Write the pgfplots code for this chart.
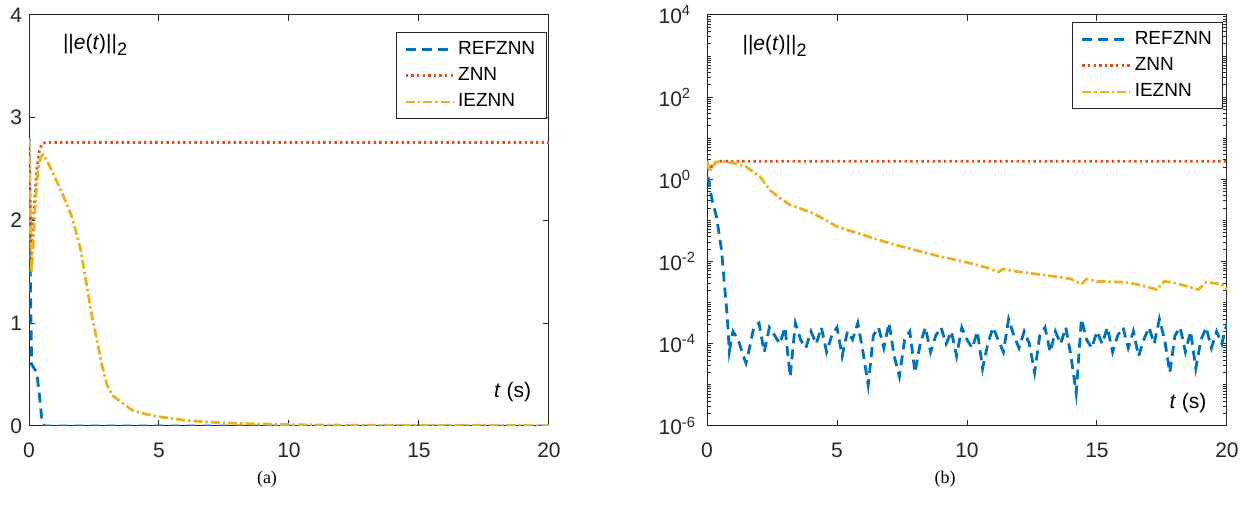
\documentclass[border=0pt]{standalone}
\usepackage{fontspec}
\setmainfont{Liberation Sans}
\newfontfamily\capfont{Liberation Serif}
\usepackage{pgfplots}
\pgfplotsset{compat=1.18}

\definecolor{mblue}{rgb}{0,0.447,0.741}
\definecolor{mred}{rgb}{0.85,0.325,0.098}
\definecolor{myel}{rgb}{0.929,0.694,0.125}
\definecolor{axgray}{rgb}{0.15,0.15,0.15}

\pgfplotsset{
  mystyle/.style={
    scale only axis, width=260pt, height=205.5pt,
    xmin=0, xmax=20, xtick={0,5,10,15,20},
    axis line style={axgray, line width=0.5pt},
    every tick/.style={axgray, line width=0.5pt},
    major tick length=2.8pt, minor tick length=1.6pt,
    tick align=inside,
    /pgf/number format/assume math mode=true,
    ticklabel style={font=\fontsize{10.5}{12}\selectfont, text=axgray},
    xticklabel style={yshift=-5pt},
    legend cell align=left,
    legend style={font=\fontsize{9.5}{11}\selectfont, draw=axgray, line width=0.5pt,
      inner xsep=4pt, inner ysep=2.5pt, anchor=north east,
      nodes={inner sep=1.5pt, text height=7pt, text depth=2pt}, row sep=1.2pt},
    legend image code/.code={\draw[#1] (0pt,0pt) -- (24pt,0pt);},
    every axis plot/.append style={line width=1.4pt},
  },
  refs/.style={mblue, dash pattern=on 5pt off 3pt},
  znns/.style={mred, dash pattern=on 1.2pt off 1.6pt},
  iez/.style={myel, dash pattern=on 4.5pt off 1.5pt on 1.2pt off 1.5pt},
}

\newcommand{\enorm}{||\textit{e}(\textit{t})||\raisebox{-0.55ex}{\fontsize{9}{9}\selectfont 2}}

\begin{document}
\begin{tikzpicture}
\path[use as bounding box] (0,0) rectangle (625pt,261.5pt);

% (a) linear scale
\begin{axis}[mystyle, at={(14.5pt,48.5pt)}, anchor=south west,
  ymin=0, ymax=4, ytick={0,1,2,3,4},
  legend style={at={(0.9956,0.9594)}}]
\addplot[refs] coordinates {
  (0,2.8) (0.05,1.5) (0.1,0.6) (0.15,0.58) (0.3,0.52) (0.4,0.3) (0.5,0.05) (0.6,0) (20,0)
};
\addplot[znns] coordinates {
  (0,2.8) (0.05,2.1) (0.1,1.75) (0.2,2.15) (0.3,2.5) (0.4,2.68) (0.5,2.75) (0.7,2.76) (20,2.76)
};
\addplot[iez] coordinates {
  (0,2.8) (0.05,2.0) (0.1,1.5) (0.15,1.7) (0.25,2.2) (0.35,2.5) (0.45,2.62) (0.55,2.64)
  (0.7,2.58) (1.0,2.42) (1.3,2.25) (1.6,2.07) (1.8,1.9) (2.0,1.7) (2.2,1.4) (2.4,1.1)
  (2.6,0.85) (2.8,0.6) (3.0,0.4) (3.2,0.3) (3.5,0.24) (4.0,0.15) (4.5,0.115) (5.0,0.09)
  (6,0.055) (7,0.037) (8,0.025) (10,0.013) (12,0.008) (15,0.005) (20,0.003)
};
\legend{REFZNN, ZNN, IEZNN}
\node[font=\fontsize{10.5}{12}\selectfont, text=black] at (axis cs:2.54,3.71) {\enorm};
\node[font=\fontsize{10.5}{12}\selectfont, text=black] at (axis cs:18.6,0.33) {\textit{t} (s)};
\end{axis}

% (b) log scale
\begin{axis}[mystyle, at={(353.5pt,48.5pt)}, anchor=south west,
  ymode=log, ymin=1e-6, ymax=1e4,
  ytick={1e-6,1e-4,1e-2,1,1e2,1e4},
  yticklabels={10\rlap{\textsuperscript{-6}},10\rlap{\textsuperscript{-4}},10\rlap{\textsuperscript{-2}},
    10\rlap{\textsuperscript{0}},10\rlap{\textsuperscript{2}},10\rlap{\textsuperscript{4}}},
  yticklabel style={xshift=-9pt},
  extra y ticks={2e-6,3e-6,4e-6,5e-6,6e-6,7e-6,8e-6,9e-6,
    1e-5,2e-5,3e-5,4e-5,5e-5,6e-5,7e-5,8e-5,9e-5,
    2e-4,3e-4,4e-4,5e-4,6e-4,7e-4,8e-4,9e-4,
    1e-3,2e-3,3e-3,4e-3,5e-3,6e-3,7e-3,8e-3,9e-3,
    2e-2,3e-2,4e-2,5e-2,6e-2,7e-2,8e-2,9e-2,
    1e-1,2e-1,3e-1,4e-1,5e-1,6e-1,7e-1,8e-1,9e-1,
    2,3,4,5,6,7,8,9,
    10,20,30,40,50,60,70,80,90,
    200,300,400,500,600,700,800,900,
    1000,2000,3000,4000,5000,6000,7000,8000,9000},
  extra y tick labels={},
  extra y tick style={major tick length=2.2pt, tick style={axgray, line width=0.45pt}},
  legend style={at={(0.9929,0.9837)}}]
\addplot[refs] coordinates {
  (0,2.8) (0.05,1.0) (0.18,0.35) (0.37,0.12) (0.56,0.019) (0.69,2.0e-3) (0.78,4.6e-4)
  (0.86,6.5e-5) (0.95,1.4e-4)
  (1.0,2.0e-4) (1.2,1.26e-4) (1.4,5e-5) (1.5,3.4e-5) (1.6,6.3e-5) (1.8,2.5e-4)
  (2.0,3.2e-4) (2.2,6.3e-5) (2.4,2.5e-4) (2.6,1.6e-4) (2.8,1.0e-4) (3.0,2.5e-4)
  (3.2,1.6e-5) (3.4,3.2e-4) (3.6,1.26e-4) (3.8,7.9e-5) (4.0,2.0e-4) (4.2,1.0e-4)
  (4.4,2.5e-4) (4.6,6.3e-5) (4.8,1.6e-4) (5.0,2.5e-4) (5.2,5.0e-5) (5.4,2.0e-4)
  (5.6,1.26e-4) (5.8,3.2e-4) (6.0,6.3e-5) (6.2,1.0e-5) (6.4,1.6e-4) (6.6,2.5e-4)
  (6.8,7.9e-5) (7.0,3.2e-4) (7.2,5.0e-5) (7.4,1.6e-5) (7.6,1.26e-4) (7.8,2.0e-4)
  (8.0,2.0e-5) (8.2,1.0e-4) (8.4,2.5e-4) (8.6,6.3e-5) (8.8,1.6e-4) (9.0,2.5e-4)
  (9.2,1.0e-4) (9.4,2.0e-4) (9.6,5.0e-5) (9.8,2.5e-4) (10.0,1.26e-4) (10.2,7.9e-5)
  (10.4,2.0e-4) (10.6,2.5e-5) (10.8,1.0e-4) (11.0,2.5e-4) (11.2,1.26e-4) (11.4,6.3e-5)
  (11.6,4.0e-4) (11.8,1.6e-4) (12.0,7.9e-5) (12.2,2.0e-4) (12.4,1.0e-4) (12.6,2.0e-5)
  (12.8,1.6e-4) (13.0,2.5e-4) (13.2,6.3e-5) (13.4,2.0e-4) (13.6,1.0e-4) (13.8,2.5e-4)
  (14.0,5.0e-5) (14.2,6.3e-6) (14.4,4.0e-4) (14.6,1.26e-4) (14.8,7.9e-5) (15.0,2.0e-4)
  (15.2,1.0e-4) (15.4,2.5e-4) (15.6,6.3e-5) (15.8,1.6e-4) (16.0,2.5e-4) (16.2,7.9e-5)
  (16.4,2.0e-4) (16.6,5.0e-5) (16.8,1.26e-4) (17.0,2.5e-4) (17.2,1.0e-4) (17.4,4.0e-4)
  (17.6,1.26e-4) (17.8,2.0e-5) (18.0,1.6e-4) (18.2,2.5e-4) (18.4,6.3e-5) (18.6,2.0e-4)
  (18.8,2.5e-5) (19.0,1.26e-4) (19.2,2.5e-4) (19.4,7.9e-5) (19.6,2.0e-4) (19.8,1.0e-4)
  (20.0,3.2e-4)
};
\addplot[znns] coordinates {
  (0,2.8) (0.05,2.1) (0.1,1.75) (0.2,2.15) (0.3,2.5) (0.4,2.68) (0.5,2.75) (0.7,2.76) (20,2.76)
};
\addplot[iez] coordinates {
  (0,2.82) (0.1,1.55) (0.2,2.0) (0.35,2.63) (0.5,2.75) (1.0,2.5) (1.5,2.04) (2.04,1.16)
  (2.42,0.55) (2.81,0.35) (3.19,0.24) (4.09,0.15) (5,0.0708) (6,0.0447) (7,0.0282)
  (8,0.0191) (9,0.0132) (10,0.00955) (10.8,0.0070) (11.2,0.00562) (11.4,0.0066)
  (12,0.00562) (13,0.00468) (14,0.0038) (14.4,0.00282) (14.6,0.0038) (15,0.00331)
  (16,0.00316) (16.5,0.00282) (17.3,0.00209) (17.6,0.00331) (18,0.00302) (18.9,0.00209)
  (19.2,0.00316) (19.8,0.00282) (20,0.00209)
};
\legend{REFZNN, ZNN, IEZNN}
\node[font=\fontsize{10.5}{12}\selectfont, text=black] at (axis cs:2.6,1.8e3) {\enorm};
\node[font=\fontsize{10.5}{12}\selectfont, text=black] at (axis cs:18.5,3.6e-6) {\textit{t} (s)};
\end{axis}

\node[font=\capfont\fontsize{9}{10}\selectfont] at (133.5pt,22pt) {(a)};
\node[font=\capfont\fontsize{9}{10}\selectfont] at (472.5pt,22pt) {(b)};
\end{tikzpicture}
\end{document}
